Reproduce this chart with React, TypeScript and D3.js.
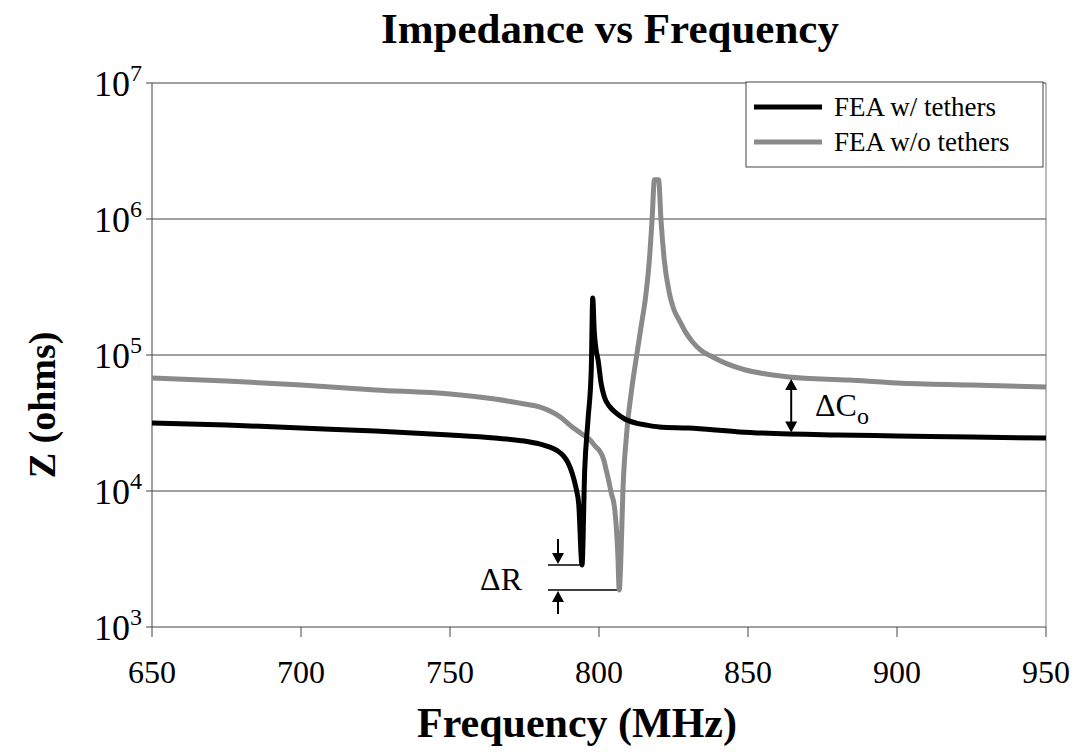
import React from "react";
import * as d3 from "d3";

// ---- Data ----
const withTethersFreq = [650, 675, 700, 725, 750, 765, 775, 780, 783, 786, 788, 789.5, 791, 792.3, 793.2, 794.3, 795.2, 796.3, 797.4, 797.9, 798.4, 799.0, 799.7, 800.7, 801.8, 803.5, 805.7, 808.5, 812.4, 816, 820.2, 830, 847, 880, 900, 925, 950];
const withTethersZ = [31600, 30600, 29000, 27600, 25800, 24500, 23300, 22200, 21200, 19800, 18200, 16300, 13500, 10500, 8000, 2860, 14200, 33200, 77600, 262000, 150000, 110000, 91800, 62000, 49100, 42000, 37500, 34000, 31600, 30500, 29600, 29000, 27200, 25800, 25400, 24900, 24500];

const withoutTethersFreq = [650, 675, 700, 725, 750, 765, 775, 780, 787, 791, 794, 797, 799, 800, 801, 801.8, 802.4, 803.2, 804.1, 805.2, 806.3, 806.8, 807.4, 808.0, 809.3, 810.8, 812.4, 814.1, 815.8, 816.9, 817.8, 818.6, 820.0, 820.8, 821.9, 823.6, 825, 826.9, 829, 831.4, 834.5, 838.1, 843, 849.2, 856, 863.7, 883.8, 900, 925, 950];
const withoutTethersZ = [67800, 64400, 60100, 55300, 51600, 47400, 43600, 41500, 35000, 29600, 26500, 23700, 21060, 20030, 18400, 16300, 14300, 12050, 9670, 7600, 3500, 1870, 3500, 9670, 26700, 52600, 91800, 160600, 286000, 500000, 984000, 1940000, 1940000, 984000, 500000, 286000, 220000, 180800, 148000, 124700, 107000, 96700, 86000, 77600, 72500, 68900, 65400, 62200, 60100, 58200];

const xTicks = [650, 700, 750, 800, 850, 900, 950];
const yTickExponents = [3, 4, 5, 6, 7];

const seriesNames = ["FEA w/ tethers", "FEA w/o tethers"];
const seriesColors = ["#000000", "#8a8a8a"];

const title = "Impedance vs Frequency";
const xLabel = "Frequency (MHz)";
const yLabel = "Z (ohms)";

// ΔR annotation levels (minima of the two curves) and ΔCo annotation
const deltaRFreqs = [794.3, 806.8];
const deltaRZ = [2860, 1870];
const deltaCoFreq = 865.5;
const deltaCoZ = [68900, 26000];

const FONT = "'Liberation Serif', 'Times New Roman', Times, serif";

export default function App() {
  const W = 1073, H = 752;
  const left = 152, right = 1046, top = 83, bottom = 627;

  const x = d3.scaleLinear().domain([650, 950]).range([left, right]);
  const y = d3.scaleLog().domain([1e3, 1e7]).range([bottom, top]);

  const line = d3
    .line<[number, number]>()
    .x((d) => x(d[0]))
    .y((d) => y(d[1]))
    .curve(d3.curveMonotoneX);

  const blackPts = withTethersFreq.map((f, i) => [f, withTethersZ[i]] as [number, number]);
  const grayPts = withoutTethersFreq.map((f, i) => [f, withoutTethersZ[i]] as [number, number]);

  const rTopY = y(deltaRZ[0]);
  const rBotY = y(deltaRZ[1]);
  const rX0 = 548;
  const arrowX = 558;

  const coX = x(deltaCoFreq) - 3;
  const coTop = y(deltaCoZ[0]);
  const coBot = y(deltaCoZ[1]);

  return (
    <svg width={W} height={H} style={{ position: "absolute", left: 0, top: 0, background: "#fff" }} fontFamily={FONT}>
      <rect x={0} y={0} width={W} height={H} fill="#fff" />
      {/* title */}
      <text x={610} y={43} textAnchor="middle" fontSize={43} fontWeight="bold">{title}</text>

      {/* gridlines */}
      {yTickExponents.map((e) => (
        <line key={e} x1={left} x2={right} y1={y(Math.pow(10, e))} y2={y(Math.pow(10, e))} stroke="#444" strokeWidth={1} />
      ))}
      {/* plot frame */}
      <line x1={left} x2={left} y1={top} y2={bottom} stroke="#444" strokeWidth={1} />
      <line x1={right} x2={right} y1={top} y2={bottom} stroke="#777" strokeWidth={1} />

      {/* y ticks and labels */}
      {yTickExponents.map((e) => (
        <g key={e}>
          <line x1={left - 6} x2={left} y1={y(Math.pow(10, e))} y2={y(Math.pow(10, e))} stroke="#444" />
          <text x={142} y={y(Math.pow(10, e)) + 13} textAnchor="end" fontSize={36}>
            10<tspan dy={-15} fontSize={24}>{e}</tspan>
          </text>
        </g>
      ))}

      {/* x ticks and labels */}
      {xTicks.map((t) => (
        <g key={t}>
          <line x1={x(t)} x2={x(t)} y1={bottom} y2={bottom + 10} stroke="#444" />
          <text x={x(t)} y={683} textAnchor="middle" fontSize={32}>{t}</text>
        </g>
      ))}

      {/* axis titles */}
      <text x={577} y={737} textAnchor="middle" fontSize={42} fontWeight="bold">{xLabel}</text>
      <text transform={`translate(55, 405) rotate(-90)`} textAnchor="middle" fontSize={38} fontWeight="bold">{yLabel}</text>

      {/* ΔR annotation lines */}
      <line x1={rX0} x2={x(deltaRFreqs[0])} y1={rTopY} y2={rTopY} stroke="#000" strokeWidth={1.5} />
      <line x1={rX0} x2={x(deltaRFreqs[1])} y1={rBotY} y2={rBotY} stroke="#000" strokeWidth={1.5} />

      {/* series */}
      <path d={line(grayPts) || ""} fill="none" stroke={seriesColors[1]} strokeWidth={5} strokeLinejoin="round" />
      <path d={line(blackPts) || ""} fill="none" stroke={seriesColors[0]} strokeWidth={5} strokeLinejoin="round" />

      {/* ΔR arrows */}
      <line x1={arrowX} x2={arrowX} y1={rTopY - 26} y2={rTopY - 10} stroke="#000" strokeWidth={2} />
      <path d={`M${arrowX - 6},${rTopY - 12} L${arrowX + 6},${rTopY - 12} L${arrowX},${rTopY - 1} Z`} fill="#000" />
      <line x1={arrowX} x2={arrowX} y1={rBotY + 10} y2={rBotY + 24} stroke="#000" strokeWidth={2} />
      <path d={`M${arrowX - 6},${rBotY + 12} L${arrowX + 6},${rBotY + 12} L${arrowX},${rBotY + 1} Z`} fill="#000" />
      <text x={522} y={590} textAnchor="end" fontSize={32}>ΔR</text>

      {/* ΔCo arrow */}
      <line x1={coX} x2={coX} y1={coTop + 10} y2={coBot - 10} stroke="#000" strokeWidth={2} />
      <path d={`M${coX - 6},${coTop + 13} L${coX + 6},${coTop + 13} L${coX},${coTop + 2} Z`} fill="#000" />
      <path d={`M${coX - 6},${coBot - 13} L${coX + 6},${coBot - 13} L${coX},${coBot - 2} Z`} fill="#000" />
      <text x={815} y={416} fontSize={32}>
        ΔC<tspan dy={8} fontSize={24}>o</tspan>
      </text>

      {/* legend */}
      <rect x={746} y={82} width={297} height={85} fill="#fff" stroke="#444" strokeWidth={1} />
      {seriesNames.map((n, i) => (
        <g key={n}>
          <line x1={754} x2={822} y1={107 + i * 35} y2={107 + i * 35} stroke={seriesColors[i]} strokeWidth={5} />
          <text x={834} y={116 + i * 35} fontSize={27}>{n}</text>
        </g>
      ))}
    </svg>
  );
}
